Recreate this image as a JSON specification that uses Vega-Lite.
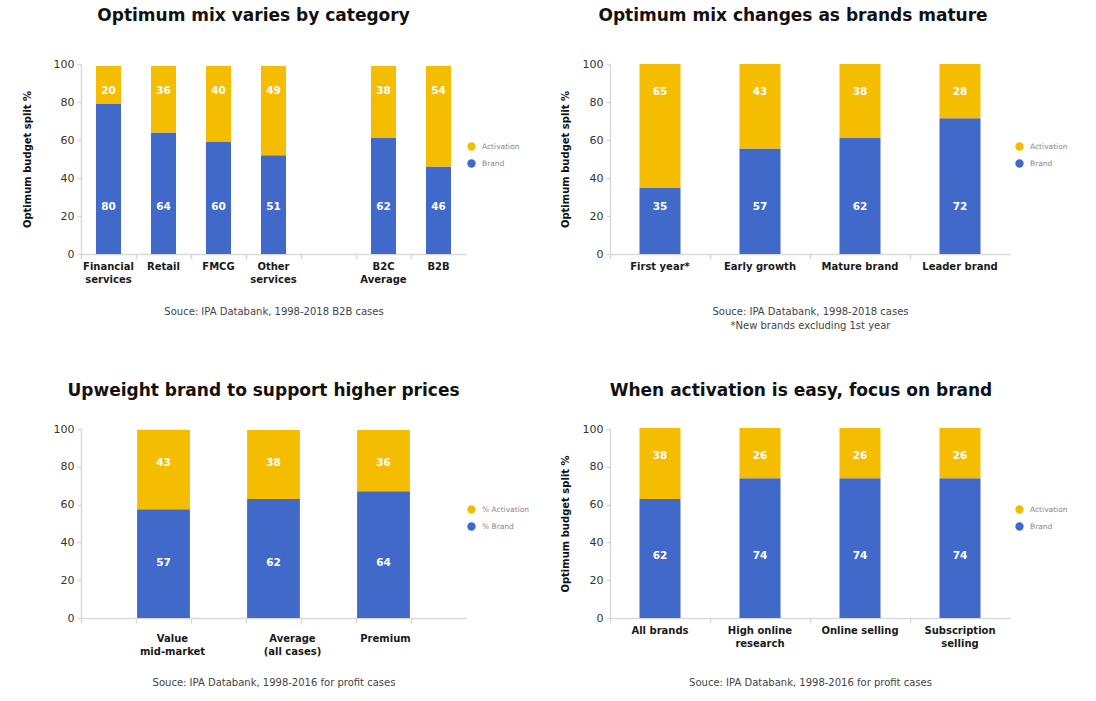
{
  "$schema": "https://vega.github.io/schema/vega-lite/v6.json",
  "background": "white",
  "padding": {"left": 22, "top": 7, "right": 5, "bottom": 5},
  "autosize": {"type": "pad"},
  "columns": 2,
  "spacing": {"row": 175, "column": 144},
  "bounds": "flush",
  "resolve": {"scale": {"color": "independent", "x": "independent", "y": "independent"}, "legend": {"color": "independent"}},
  "config": {
    "view": {"stroke": null},
    "font": "DejaVu Sans",
    "title": {"fontSize": 17, "fontWeight": "bold", "color": "#111111", "anchor": "middle", "font": "DejaVu Sans"},
    "axis": {"grid": false, "domainColor": "#d9d9d9", "tickColor": "#d9d9d9", "domainWidth": 1.5, "tickWidth": 1.5, "labelFont": "DejaVu Sans", "titleFont": "DejaVu Sans", "labelOverlap": false},
    "axisY": {"tickSize": 4, "labelFontSize": 11, "labelColor": "#333333", "labelPadding": 3, "titleFontSize": 10, "titleFontWeight": "bold", "titleColor": "#111111", "values": [0,10,20,30,40,50,60,70,80,90,100]},
    "axisX": {"tickSize": 5, "labelFontSize": 10, "labelFontWeight": "bold", "labelColor": "#1a1a1a", "labelAngle": 0, "labelLineHeight": 13, "bandPosition": 0, "titleFontSize": 10, "titleFontWeight": "normal", "titleColor": "#444444", "titleLineHeight": 14, "labelExpr": "split(datum.label, '|')"},
    "legend": {"orient": "none", "direction": "vertical", "title": null, "symbolType": "circle", "symbolSize": 70, "symbolStrokeWidth": 0, "labelFontSize": 7.5, "labelColor": "#888888", "rowPadding": 8, "labelOffset": 6, "padding": 0, "labelFont": "DejaVu Sans"},
    "text": {"color": "white", "fontWeight": "bold", "fontSize": 10.5, "baseline": "middle", "align": "center", "font": "DejaVu Sans"}
  },
  "concat": [
    {
      "width": 385, "height": 190,
      "title": {"text": "Optimum mix varies by category", "dx": -20, "offset": 33},
      "data": {"values": [
        {"category": "Financial|services", "series": "Brand", "value": 79, "label": "80"},
        {"category": "Financial|services", "series": "Activation", "value": 20, "label": "20"},
        {"category": "Retail", "series": "Brand", "value": 64, "label": "64"},
        {"category": "Retail", "series": "Activation", "value": 35, "label": "36"},
        {"category": "FMCG", "series": "Brand", "value": 59, "label": "60"},
        {"category": "FMCG", "series": "Activation", "value": 40, "label": "40"},
        {"category": "Other|services", "series": "Brand", "value": 52, "label": "51"},
        {"category": "Other|services", "series": "Activation", "value": 47, "label": "49"},
        {"category": "B2C|Average", "series": "Brand", "value": 61, "label": "62"},
        {"category": "B2C|Average", "series": "Activation", "value": 38, "label": "38"},
        {"category": "B2B", "series": "Brand", "value": 46, "label": "46"},
        {"category": "B2B", "series": "Activation", "value": 53, "label": "54"}
      ]},
      "encoding": {
        "x": {"field": "category", "type": "nominal", "sort": null,
          "scale": {"domain": ["Financial|services", "Retail", "FMCG", "Other|services", " ", "B2C|Average", "B2B"], "paddingInner": 0, "paddingOuter": 0},
          "axis": {"labelPadding": 2, "title": "Souce: IPA Databank, 1998-2018 B2B cases", "titlePadding": 22}}
      },
      "layer": [
        {
          "mark": {"type": "bar", "width": {"band": 0.455}},
          "encoding": {
            "y": {"field": "value", "type": "quantitative", "stack": "zero", "scale": {"domain": [0, 100], "nice": false}, "axis": {"title": "Optimum budget split %", "titlePadding": 21}},
            "color": {"field": "series", "type": "nominal", "scale": {"domain": ["Activation", "Brand"], "range": ["#F5BD00", "#4169C9"]}, "legend": {"legendX": 386, "legendY": 78}},
            "order": {"field": "series", "sort": "descending"}
          }
        },
        {
          "transform": [{"filter": "indexof(datum.series, 'Activation') >= 0"}],
          "mark": {"type": "text"},
          "encoding": {"y": {"datum": 85.8, "type": "quantitative", "axis": {"title": "Optimum budget split %", "titlePadding": 21}}, "text": {"field": "label"}}
        },
        {
          "transform": [{"filter": "indexof(datum.series, 'Brand') >= 0"}],
          "mark": {"type": "text"},
          "encoding": {"y": {"datum": 24.7, "type": "quantitative", "axis": {"title": "Optimum budget split %", "titlePadding": 21}}, "text": {"field": "label"}}
        }
      ]
    },
    {
      "width": 400, "height": 190,
      "title": {"text": "Optimum mix changes as brands mature", "dx": -17, "offset": 33},
      "data": {"values": [
        {"category": "First year*", "series": "Brand", "value": 35, "label": "35"},
        {"category": "First year*", "series": "Activation", "value": 65, "label": "65"},
        {"category": "Early growth", "series": "Brand", "value": 55.5, "label": "57"},
        {"category": "Early growth", "series": "Activation", "value": 44.5, "label": "43"},
        {"category": "Mature brand", "series": "Brand", "value": 61, "label": "62"},
        {"category": "Mature brand", "series": "Activation", "value": 39, "label": "38"},
        {"category": "Leader brand", "series": "Brand", "value": 71.5, "label": "72"},
        {"category": "Leader brand", "series": "Activation", "value": 28.5, "label": "28"}
      ]},
      "encoding": {
        "x": {"field": "category", "type": "nominal", "sort": null,
          "scale": {"domain": ["First year*", "Early growth", "Mature brand", "Leader brand"], "paddingInner": 0, "paddingOuter": 0},
          "axis": {"labelPadding": 2, "title": ["Souce: IPA Databank, 1998-2018 cases", "*New brands excluding 1st year"], "titlePadding": 35}}
      },
      "layer": [
        {
          "mark": {"type": "bar", "width": {"band": 0.41}},
          "encoding": {
            "y": {"field": "value", "type": "quantitative", "stack": "zero", "scale": {"domain": [0, 100], "nice": false}, "axis": {"title": "Optimum budget split %", "titlePadding": 12}},
            "color": {"field": "series", "type": "nominal", "scale": {"domain": ["Activation", "Brand"], "range": ["#F5BD00", "#4169C9"]}, "legend": {"legendX": 405, "legendY": 78}},
            "order": {"field": "series", "sort": "descending"}
          }
        },
        {
          "transform": [{"filter": "indexof(datum.series, 'Activation') >= 0"}],
          "mark": {"type": "text"},
          "encoding": {"y": {"datum": 85.5, "type": "quantitative", "axis": {"title": "Optimum budget split %", "titlePadding": 12}}, "text": {"field": "label"}}
        },
        {
          "transform": [{"filter": "indexof(datum.series, 'Brand') >= 0"}],
          "mark": {"type": "text"},
          "encoding": {"y": {"datum": 24.7, "type": "quantitative", "axis": {"title": "Optimum budget split %", "titlePadding": 12}}, "text": {"field": "label"}}
        }
      ]
    },
    {
      "width": 385, "height": 189,
      "title": {"text": "Upweight brand to support higher prices", "dx": -10, "offset": 23},
      "data": {"values": [
        {"category": "Value|mid-market", "series": "% Brand", "value": 57.6, "label": "57"},
        {"category": "Value|mid-market", "series": "% Activation", "value": 42, "label": "43"},
        {"category": "Average|(all cases)", "series": "% Brand", "value": 63, "label": "62"},
        {"category": "Average|(all cases)", "series": "% Activation", "value": 36.5, "label": "38"},
        {"category": "Premium", "series": "% Brand", "value": 67, "label": "64"},
        {"category": "Premium", "series": "% Activation", "value": 32.5, "label": "36"}
      ]},
      "encoding": {
        "x": {"field": "category", "type": "nominal", "sort": null,
          "scale": {"domain": [" ", "Value|mid-market", "  ", "Average|(all cases)", "   ", "Premium", "    "], "paddingInner": 0, "paddingOuter": 0},
          "axis": {"labelOffset": {"condition": [{"test": "datum.value == 'Average|(all cases)'", "value": 19}, {"test": "datum.value == 'Premium'", "value": 2}], "value": 9}, "labelPadding": 10, "title": "Souce: IPA Databank, 1998-2016 for profit cases", "titlePadding": 21}}
      },
      "layer": [
        {
          "mark": {"type": "bar", "width": {"band": 0.96}},
          "encoding": {
            "y": {"field": "value", "type": "quantitative", "stack": "zero", "scale": {"domain": [0, 100], "nice": false}, "axis": {"title": null}},
            "color": {"field": "series", "type": "nominal", "scale": {"domain": ["% Activation", "% Brand"], "range": ["#F5BD00", "#4169C9"]}, "legend": {"legendX": 386, "legendY": 76}},
            "order": {"field": "series", "sort": "descending"}
          }
        },
        {
          "transform": [{"filter": "indexof(datum.series, 'Activation') >= 0"}],
          "mark": {"type": "text"},
          "encoding": {"y": {"datum": 82, "type": "quantitative", "axis": {"title": null}}, "text": {"field": "label"}}
        },
        {
          "transform": [{"filter": "indexof(datum.series, 'Brand') >= 0"}],
          "mark": {"type": "text"},
          "encoding": {"y": {"datum": 29.2, "type": "quantitative", "axis": {"title": null}}, "text": {"field": "label"}}
        }
      ]
    },
    {
      "width": 400, "height": 189,
      "title": {"text": "When activation is easy, focus on brand", "dx": -9, "offset": 23},
      "data": {"values": [
        {"category": "All brands", "series": "Brand", "value": 63, "label": "62"},
        {"category": "All brands", "series": "Activation", "value": 37.5, "label": "38"},
        {"category": "High online|research", "series": "Brand", "value": 74, "label": "74"},
        {"category": "High online|research", "series": "Activation", "value": 26.5, "label": "26"},
        {"category": "Online selling", "series": "Brand", "value": 74, "label": "74"},
        {"category": "Online selling", "series": "Activation", "value": 26.5, "label": "26"},
        {"category": "Subscription|selling", "series": "Brand", "value": 74, "label": "74"},
        {"category": "Subscription|selling", "series": "Activation", "value": 26.5, "label": "26"}
      ]},
      "encoding": {
        "x": {"field": "category", "type": "nominal", "sort": null,
          "scale": {"domain": ["All brands", "High online|research", "Online selling", "Subscription|selling"], "paddingInner": 0, "paddingOuter": 0},
          "axis": {"labelPadding": 2, "title": "Souce: IPA Databank, 1998-2016 for profit cases", "titlePadding": 29}}
      },
      "layer": [
        {
          "mark": {"type": "bar", "width": {"band": 0.41}},
          "encoding": {
            "y": {"field": "value", "type": "quantitative", "stack": "zero", "scale": {"domain": [0, 100], "nice": false}, "axis": {"title": "Optimum budget split %", "titlePadding": 12}},
            "color": {"field": "series", "type": "nominal", "scale": {"domain": ["Activation", "Brand"], "range": ["#F5BD00", "#4169C9"]}, "legend": {"legendX": 405, "legendY": 76}},
            "order": {"field": "series", "sort": "descending"}
          }
        },
        {
          "transform": [{"filter": "indexof(datum.series, 'Activation') >= 0"}],
          "mark": {"type": "text"},
          "encoding": {"y": {"datum": 85.6, "type": "quantitative", "axis": {"title": "Optimum budget split %", "titlePadding": 12}}, "text": {"field": "label"}}
        },
        {
          "transform": [{"filter": "indexof(datum.series, 'Brand') >= 0"}],
          "mark": {"type": "text"},
          "encoding": {"y": {"datum": 33, "type": "quantitative", "axis": {"title": "Optimum budget split %", "titlePadding": 12}}, "text": {"field": "label"}}
        }
      ]
    }
  ]
}
